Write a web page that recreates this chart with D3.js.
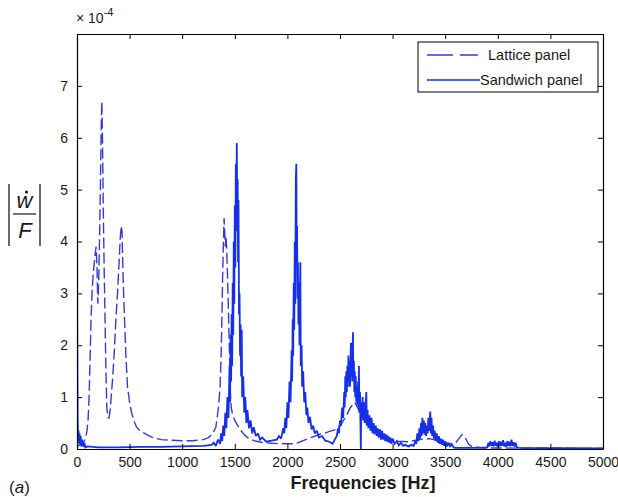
<!DOCTYPE html>
<html>
<head>
    <meta charset="utf-8">
    <title>frequency response</title>
    <script type="text/javascript" src="https://cdn.jsdelivr.net/npm/d3@7"></script>
    <style>
      body { margin: 0; background: #fff; }
      text { font-family: "Liberation Sans", Arial, sans-serif; }
    </style>
</head>
<body>
<script type="text/javascript">

    // axis ticks (values in units of 1e-4)
    var xTicks = [0, 500, 1000, 1500, 2000, 2500, 3000, 3500, 4000, 4500, 5000]
    var yTicks = [0, 1, 2, 3, 4, 5, 6, 7]
    var seriesNames = ["Lattice panel", "Sandwich panel"]

    // lattice panel: [frequency Hz, |w'/F| x1e-4]
    var lattice = [[0,0.05],[30,0.08],[60,0.12],[80,0.2],[95,0.35],[105,0.55],[115,1.0],[125,1.8],[135,2.6],[145,3.1],
        [155,3.4],[165,3.6],[175,3.8],[182,3.9],[190,3.5],[198,2.8],[206,3.2],[214,4.0],[222,5.0],[230,6.2],[236,6.7],
        [242,6.0],[250,4.6],[258,3.5],[266,2.6],[274,1.6],[283,0.8],[295,0.6],[305,0.6],[315,0.75],[325,1.0],[340,1.4],
        [355,1.9],[370,2.5],[385,3.0],[400,3.6],[412,4.1],[420,4.3],[428,4.2],[438,3.3],[450,2.6],[465,1.8],[480,1.2],
        [500,0.9],[519,0.7],[540,0.55],[566,0.42],[600,0.35],[660,0.28],[720,0.22],[800,0.18],[900,0.17],[1000,0.16],
        [1100,0.16],[1200,0.18],[1250,0.22],[1290,0.3],[1320,0.42],[1345,0.8],[1360,1.2],[1370,1.8],[1378,2.6],[1385,3.4],
        [1392,4.0],[1398,4.45],[1404,4.2],[1410,3.9],[1416,4.1],[1422,3.9],[1430,3.4],[1440,2.6],[1450,1.8],[1458,1.1],
        [1466,0.8],[1480,0.65],[1500,0.55],[1520,0.48],[1550,0.38],[1580,0.3],[1620,0.22],[1680,0.16],[1750,0.13],
        [1850,0.11],[1950,0.1],[2050,0.1],[2100,0.12],[2150,0.16],[2200,0.2],[2250,0.24],[2300,0.28],[2350,0.3],
        [2400,0.34],[2450,0.37],[2500,0.45],[2550,0.6],[2600,0.8],[2640,0.9],[2680,0.75],[2750,0.5],[2850,0.3],
        [2950,0.2],[3050,0.15],[3150,0.14],[3250,0.18],[3350,0.2],[3450,0.15],[3550,0.1],[3600,0.12],[3630,0.2],
        [3660,0.28],[3690,0.22],[3720,0.1],[3750,0.05],[3850,0.02],[5000,0.01]]

    // sandwich panel: [frequency Hz, |w'/F| x1e-4]
    var sandwich = [[0,4.9],[3,2.0],[6,0.6],[10,0.2],[15,0.35],[20,0.1],[25,0.3],[30,0.08],[35,0.25],[40,0.05],[50,0.18],
        [60,0.04],[70,0.12],[80,0.03],[100,0.05],[200,0.03],[400,0.03],[600,0.04],[800,0.04],[1000,0.05],[1200,0.06],
        [1280,0.08],[1300,0.12],[1320,0.06],[1340,0.18],[1360,0.1],[1370,0.3],[1380,0.15],[1390,0.45],[1400,0.25],
        [1410,0.7],[1420,0.4],[1430,1.0],[1440,0.6],[1450,1.6],[1455,0.9],[1460,2.2],[1465,1.3],[1470,2.6],[1475,1.6],
        [1480,3.2],[1485,2.2],[1490,4.0],[1495,2.8],[1500,4.7],[1505,3.5],[1510,5.5],[1515,4.2],[1519,5.9],[1523,4.5],
        [1527,5.2],[1531,3.6],[1535,4.8],[1540,2.6],[1545,3.0],[1550,1.8],[1555,2.4],[1560,1.4],[1566,2.3],[1570,1.0],
        [1580,1.4],[1590,0.7],[1600,1.0],[1610,0.5],[1620,0.75],[1635,0.4],[1650,0.55],[1665,0.3],[1680,0.42],[1700,0.25],
        [1720,0.3],[1740,0.18],[1760,0.22],[1800,0.14],[1850,0.16],[1900,0.18],[1920,0.25],[1940,0.2],[1960,0.4],
        [1970,0.3],[1980,0.6],[1990,0.4],[2000,0.9],[2010,0.6],[2020,1.3],[2030,0.9],[2040,1.9],[2045,1.3],[2050,2.5],
        [2055,1.8],[2060,3.2],[2065,2.3],[2070,4.0],[2075,2.8],[2080,5.2],[2085,5.5],[2088,3.6],[2092,4.3],[2096,2.9],
        [2100,3.6],[2105,2.4],[2110,3.2],[2115,2.0],[2123,3.6],[2127,1.6],[2135,2.0],[2140,1.2],[2150,1.5],[2160,0.9],
        [2170,1.1],[2180,0.65],[2190,0.8],[2200,0.5],[2215,0.62],[2230,0.38],[2245,0.45],[2260,0.3],[2280,0.35],
        [2300,0.22],[2330,0.25],[2360,0.16],[2400,0.14],[2430,0.1],[2450,0.18],[2470,0.25],[2480,0.4],[2490,0.3],
        [2500,0.55],[2510,0.45],[2520,0.8],[2530,0.6],[2540,1.1],[2545,0.8],[2550,1.4],[2555,1.0],[2560,1.5],[2565,1.1],
        [2570,1.6],[2575,1.2],[2580,1.8],[2585,1.3],[2590,1.7],[2595,1.2],[2604,2.05],[2608,1.4],[2612,1.9],[2616,1.3],
        [2623,2.25],[2627,1.4],[2632,1.7],[2636,1.1],[2640,1.5],[2645,1.0],[2650,1.4],[2655,0.9],[2660,1.2],[2665,0.85],
        [2672,1.3],[2676,0.8],[2680,1.6],[2684,0.7],[2690,1.1],[2698,0.0],[2702,0.9],[2710,0.6],[2715,1.0],[2720,0.55],
        [2728,0.9],[2735,0.5],[2742,0.8],[2750,1.1],[2755,0.45],[2762,0.75],[2770,0.4],[2780,0.65],[2790,0.35],[2800,0.6],
        [2810,0.3],[2820,0.5],[2830,0.28],[2840,0.45],[2850,0.25],[2860,0.4],[2870,0.22],[2880,0.38],[2890,0.18],
        [2900,0.35],[2910,0.18],[2920,0.3],[2930,0.15],[2940,0.28],[2950,0.14],[2960,0.25],[2970,0.12],[2980,0.22],
        [2990,0.1],[3000,0.2],[3020,0.1],[3040,0.15],[3060,0.07],[3080,0.12],[3100,0.06],[3120,0.08],[3150,0.05],
        [3180,0.08],[3200,0.06],[3215,0.15],[3225,0.1],[3235,0.3],[3245,0.15],[3255,0.4],[3262,0.2],[3270,0.5],
        [3276,0.25],[3283,0.6],[3290,0.3],[3297,0.55],[3304,0.28],[3310,0.5],[3318,0.25],[3325,0.45],[3333,0.3],
        [3340,0.6],[3348,0.35],[3358,0.72],[3364,0.3],[3370,0.6],[3376,0.25],[3385,0.45],[3392,0.2],[3400,0.35],
        [3410,0.15],[3420,0.3],[3430,0.12],[3440,0.25],[3450,0.1],[3460,0.2],[3470,0.08],[3480,0.18],[3490,0.06],
        [3500,0.15],[3515,0.05],[3530,0.12],[3545,0.04],[3560,0.1],[3580,0.03],[3600,0.02],[3800,0.02],[3900,0.03],
        [3910,0.12],[3920,0.05],[3930,0.15],[3940,0.06],[3950,0.13],[3960,0.05],[3970,0.16],[3980,0.06],[3990,0.12],
        [4000,0.04],[4010,0.15],[4020,0.05],[4030,0.14],[4040,0.06],[4050,0.17],[4060,0.05],[4070,0.12],[4080,0.04],
        [4090,0.15],[4100,0.06],[4110,0.14],[4120,0.05],[4130,0.18],[4140,0.06],[4150,0.13],[4160,0.05],[4170,0.12],
        [4180,0.03],[4200,0.02],[5000,0.01]]

    var width = 618
    var height = 497
    var margin = {left: 77, right: 15, top: 34, bottom: 48}
    var blue = "#1530e8"
    var ink = "#1a1a1a"

    var svg = d3.select("body").append("svg").attr("width", width).attr("height", height)

    var x = d3.scaleLinear().domain([0, 5000]).range([margin.left, width - margin.right])
    var y = d3.scaleLinear().domain([0, 8]).range([height - margin.bottom, margin.top])

    svg.append("clipPath").attr("id", "plot")
        .append("rect")
        .attr("x", x(0)).attr("y", y(8))
        .attr("width", x(5000) - x(0)).attr("height", y(0) - y(8))

    var line = d3.line().x(function(d) { return x(d[0]) }).y(function(d) { return y(d[1]) })

    svg.append("path")
        .attr("d", line(lattice))
        .attr("clip-path", "url(#plot)")
        .attr("fill", "none")
        .attr("stroke", "#3a3ad0")
        .attr("stroke-width", 1.4)
        .attr("stroke-dasharray", "11,4")

    svg.append("path")
        .attr("d", line(sandwich))
        .attr("clip-path", "url(#plot)")
        .attr("fill", "none")
        .attr("stroke", blue)
        .attr("stroke-width", 1.8)
        .attr("stroke-linejoin", "miter")
        .attr("stroke-miterlimit", 2)

    // axes, matlab style box with inward ticks
    function styleAxis(g) {
        g.select(".domain").attr("stroke", "#000").attr("stroke-width", 1.2)
        g.selectAll(".tick line").attr("stroke", "#000")
        g.selectAll(".tick text").attr("font-size", 14).attr("fill", ink)
            .attr("font-family", "Liberation Sans, Arial, sans-serif")
    }

    svg.append("g").attr("transform", "translate(0," + y(0) + ")")
        .call(d3.axisBottom(x).tickValues(xTicks).tickSizeInner(-5).tickSizeOuter(0).tickPadding(8).tickFormat(d3.format("d")))
        .call(styleAxis)
    svg.append("g").attr("transform", "translate(0," + y(8) + ")")
        .call(d3.axisTop(x).tickValues(xTicks).tickSizeInner(-5).tickSizeOuter(0).tickFormat(""))
        .call(styleAxis)
    svg.append("g").attr("transform", "translate(" + x(0) + ",0)")
        .call(d3.axisLeft(y).tickValues(yTicks).tickSizeInner(-5).tickSizeOuter(0).tickPadding(9))
        .call(styleAxis)
    svg.append("g").attr("transform", "translate(" + x(5000) + ",0)")
        .call(d3.axisRight(y).tickValues(yTicks).tickSizeInner(-5).tickSizeOuter(0).tickFormat(""))
        .call(styleAxis)

    // exponent label
    var ex = svg.append("text").attr("x", x(0) - 1).attr("y", 23).attr("font-size", 14).attr("fill", ink)
    ex.append("tspan").text("\u00d7 10")
    ex.append("tspan").attr("dy", -7).attr("font-size", 11).text("-4")

    // legend
    var lg = svg.append("g")
    lg.append("rect").attr("x", 418).attr("y", 42).attr("width", 180).attr("height", 50)
        .attr("fill", "#fff").attr("stroke", "#000").attr("stroke-width", 1)
    lg.append("line").attr("x1", 427).attr("x2", 478).attr("y1", 55).attr("y2", 55)
        .attr("stroke", "#3a3ad0").attr("stroke-width", 1.4).attr("stroke-dasharray", "26,7")
    lg.append("line").attr("x1", 427).attr("x2", 480).attr("y1", 80).attr("y2", 80)
        .attr("stroke", blue).attr("stroke-width", 1.4)
    lg.append("text").attr("x", 488).attr("y", 60).attr("font-size", 14.5).attr("fill", ink).text(seriesNames[0])
    lg.append("text").attr("x", 480).attr("y", 85).attr("font-size", 14.5).attr("fill", ink).text(seriesNames[1])

    // axis titles
    svg.append("text").attr("x", 363).attr("y", 489).attr("text-anchor", "middle")
        .attr("font-size", 18).attr("font-weight", "bold").attr("fill", ink).text("Frequencies [Hz]")

    var lab = svg.append("text").attr("x", 9).attr("y", 493).attr("font-size", 17).attr("fill", ink)
    lab.append("tspan").text("(")
    lab.append("tspan").attr("font-style", "italic").text("a")
    lab.append("tspan").text(")")

    // y label |w dot / F|
    var yl = svg.append("g").attr("font-family", "Liberation Serif, Times New Roman, serif").attr("fill", ink)
    yl.append("line").attr("x1", 9).attr("x2", 9).attr("y1", 184).attr("y2", 246).attr("stroke", ink).attr("stroke-width", 1.3)
    yl.append("line").attr("x1", 40).attr("x2", 40).attr("y1", 184).attr("y2", 246).attr("stroke", ink).attr("stroke-width", 1.3)
    yl.append("line").attr("x1", 13).attr("x2", 36).attr("y1", 214).attr("y2", 214).attr("stroke", ink).attr("stroke-width", 1.2)
    yl.append("text").attr("x", 24.5).attr("y", 208).attr("text-anchor", "middle").attr("font-size", 22)
        .attr("font-style", "italic").text("w")
    yl.append("circle").attr("cx", 26.5).attr("cy", 192).attr("r", 1.6).attr("fill", ink)
    yl.append("text").attr("x", 25).attr("y", 238).attr("text-anchor", "middle").attr("font-size", 22)
        .attr("font-style", "italic").text("F")

</script>
</body>
</html>
